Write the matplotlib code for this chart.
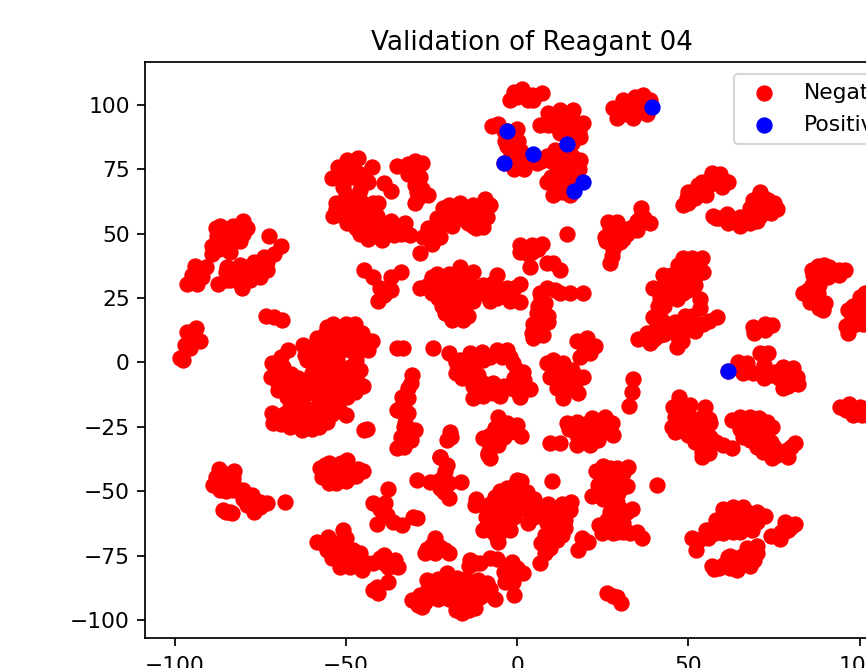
import numpy as np
import matplotlib
matplotlib.use("Agg")
import matplotlib.pyplot as plt

# t-SNE coordinates, grouped by region of the plot
far_left = [(-96.4,30.6),(-93.5,30.6),(-95,34),(-94,37.6),(-91,37),(-87.3,30.6),(-85,32),(-84.7,37),(-82,33),(-80.3,28.7),
    (-80,34),(-78,35.7),(-75,33),(-77,39),(-73,39),(-74,41),(-71,42),(-69,45),(-72.4,49),(-81,38),
    (-89,42),(-87,44),(-85,46),(-87.6,49),(-86.7,53),(-84,49),(-82,51),(-80,54.7),(-81,47),(-84,43),(-89,45),(-79,52),
    (-98.4,1.6),(-97.5,0.8),(-96.4,11.8),(-93.8,13.2),(-97,6.6),(-92.7,8.5),(-94.7,9.3),(-95.5,5.4),
    (-73.3,18.2),(-68.7,16.3),(-71,17.5),
    (-86,51),(-83,53),(-87,47),(-83,47),(-83,36),(-79,37),(-75,38),(-77,34),(-83.8,31.8),(-73,36),(-95,11),
    (-92,33),(-85,35),(-81,31),(-78,32),(-76,36),(-88,52),(-84,52),(-85,44),(-80,50)]

upper_left = [(-54,71.4),(-49.7,78.4),(-46.4,79.2),(-52.3,75.7),(-42.3,75.7),(-43.5,70),(-39,69.5),(-37,66.7),(-35,76.4),
    (-50.8,68),(-48,71.8),(-48,75.7),(-53,61.7),(-53.7,57),(-49.7,60),(-46,63),(-42,62),(-40.6,61.7),(-48,55),(-44,56.3),
    (-49.7,54),(-46,50),(-43.5,48),(-39.5,47.7),(-42,52),(-37,55),(-35,51),(-46,58),(-50,65),(-46,67),
    (-32,75.7),(-27.8,77.6),(-31.8,73),(-28.3,71.8),(-27.7,67.5),(-26,64.8),(-29.8,61.7),(-29.2,66),
    (-32.7,54.3),(-35.6,53),(-31.2,49.3),(-34,50),
    (-51,71),(-46,73),(-50,73),(-50,63),(-46,60),(-43,59),(-51,57),(-47,52),(-40,50),(-38,52),(-44,53),(-41,57),(-53,59.5),(-51,62),(-30,75),
    (-41,49),(-36,49.5),(-33,53),(-30,69),(-29,64),(-32,77),(-30,78)]

upper_mid = [(-9.3,63.6),(-8,61),(-8.8,56.3),(-10,52.4),(-14.3,54),(-16.6,61.7),(-21.6,59.8),(-19,60),(-23.5,56),(-21.6,54),
    (-18,56),(-14.3,59),(-12.3,56),(-22.5,48.5),(-27.4,48.5),(-25,46),(-28.3,42.3),(-24.5,50.5),
    (0.9,45.4),(4.4,45.4),(7.3,46),(0.9,42.7),(4.4,43),(8.8,38.4),(12.5,35.7),(10.5,38.4),(3.8,37),
    (-13,61),(-11,58),(-20,57),(-16,58),(-24,53),(-19,53),(-24,48),(-12,52),(-25,50),(3,42),(6,44),
    (-20,61),(-17,59),(-22,57),(-26,52),(-18,60),(-11,55),(-13,53),(-9,59),(-16,56)]

top_group = [(-2,101.7),(-1,104.8),(1.5,106),(4.4,103.7),(4.7,101.7),(7.3,104.4),(-7.3,91.6),(-5.5,92.7),(-3,90),(0,90.8),
    (-3.5,86),(0.3,86),(-2,82.3),(0.9,82.3),(-4,77.6),(-1,75),(1.5,78.4),(4.6,78),(5.8,77.6),(8.8,80.3),(11,82.3),(13.4,78.4),
    (6.7,92),(9,97),(12.5,97.8),(16.4,97.8),(19.3,93),(10.5,92),(14.6,93),(12.5,89),(18.3,87.4),(15.5,88),(14.6,84),
    (18.3,78.4),(15.5,75.7),(17,72.6),(11.7,73.4),(8.8,70),(10.5,64.8),(13.4,69.5),(15.5,64.8),(14,72),(12,77),(16,80),
    (28,98.6),(29,94.7),(31,101.7),(33.9,95),(36.8,103.7),(38.8,101.7),(33,100.5),(36,99),(37.8,96.6),(31,96.6),(34.5,103),(39,99),
    (36,60),(38.8,54),(35,55),(26.6,54.4),(29,54.4),(25.6,48.5),(32,50),(30,46.6),(27.6,41.5),(28,44),(35,51.3),(14.6,50),(27,38.4),
    (-1,85),(-1,79),(2,75),(10,94),(13,94),(16,95),(14,90),(7,78),(10,78),(13,82),(16,77),(11,70),(12,67),(15,69),(12,74),(3,102),(0,103),
    (28,50),(28,47),(27,52),(36,57),(37,56),
    (-2,88),(-3,84),(1,80),(-2,78),(3,79),(16,85),(9,92),(11,96),(15,96),(18,90),(10,72),(13,66),(16,66),(17,70),(18,75),(15,73),(-4,90),
    (32,98),(35,97),(35,101),(30,98),(26,47),(30,50),(33,52),(31,48)]

center_upper = [(-28.3,28.7),(-23.4,34.5),(-20,34.5),(-16.6,37),(-12.8,35),(-26,30),(-21.6,29),(-17.6,30.6),(-13.7,30.6),
    (-23,25),(-19.6,25),(-15.8,25),(-12.8,24),(-22,22),(-18.7,21.3),(-14.6,23),(-19,16.3),(-15.8,16.3),(-14.3,18.2),(-17,19),
    (-10,30),(-6,33.8),(-10.2,26.8),(-5.8,28.7),(-3,29),(0.9,30.6),(-1,29),(0.9,23.3),(-2,24),(-5.8,25),(-8,27),
    (6.7,27),(8.8,29),(12.5,27),(15.5,27),(19.3,27),(8.2,23),(5.8,19),(9,18.2),(4.7,15),(9,15.5),(4.7,9.3),(7.6,10.5),(4.4,11.3),(7,17),
    (17.5,8.5),(20.4,9.3),(22.7,6.2),(18.4,2),(21.3,3.5),(19.5,6),
    (-25,27),(-22,32),(-18,33),(-15,33),(-20,27),(-16,28),(-12,28),(-24,32),(-19,20),(-16,22),(-21,19),(-8,30),(-7,31),(-3,26),(-8,24),
    (7,14),(6,12),(6,22),(7,25),(11,28),(-14,27),(-16,35),(-20,31),(-22,27),(-25,33)]

center_ring = [(-24.5,5.4),(-33.3,5.4),(-35,5.4),(-19.9,3.5),(-18,-4.3),(-16,-6.2),(-16.6,0.8),(-13.7,3.5),(-10.2,3.9),(-12.8,-1.9),
    (-11.4,-5),(-6,4.7),(-3,4.7),(-4.5,2),(-1.2,-0.4),(1.7,-3.9),(0.9,-7),(3.8,-10.5),(0.9,-13.6),(-2,-10),(-7,-12),(-10.8,-10),
    (-13,-14),(-7,-7.8),(-10,-8),(-4,-9),
    (8.8,-0.4),(10.5,0.8),(13.4,-0.4),(16,-3),(9.6,-5.8),(12.5,-4.3),(19.3,-5.8),(16.4,-8),(11.7,-10),(13.4,-14),(17.8,-12),(15.5,-9),
    (33.9,-6.6),(33.6,-11.6),(32.7,-17),
    (-18,0),(-14,0),(-10,1),(-15,-3),(-8,2),(-2,2),(0,-3),(2,-7),(0,-11),(-5,-13),(-10,-13),(-12,-7),(-1,-6),(-14,-6),(-13,-9),
    (11,-3),(14,-3),(12,-7),(15,-6),(14,-11),(11,-5),(17,-8)]

center_lower = [(14.6,-23.7),(17.5,-23.3),(21.9,-21.7),(25.7,-21.3),(27.7,-23.7),(28,-28),(23.4,-26.4),(20.4,-26.4),(17.5,-28.3),
    (9.6,-31.4),(12.5,-31.4),(17.5,-32.2),(21.3,-32.2),(23.6,-30.3),(19,-29),
    (-5.5,-21.3),(0,-24.4),(1.2,-28.7),(-3,-23.7),(-6.4,-25.6),(-10,-29.5),(-4,-29),(-7,-31.4),(-8.5,-35.3),(-5.5,-32),
    (-19.6,-27),(-20.4,-30.3),(-19.3,-29),(-22.5,-36.9),
    (-30.7,-5),(-32,-10),(-33.7,-13.6),(-34,-17.5),(-32.7,-23.7),(-30,-26.4),(-32,-27.5),(-33,-33),(-31,-30.3),(-31.8,-19.8),(-35,-18.6),(-35,-33.4),
    (-2,-27),(-5,-27),(-8,-33),(22,-24),(25,-25),(19,-30),(-33,-20),(-33,-25),(-34,-29),
    (-2,-26),(-8,-28),(-6,-29),(-8,-37),(-4,-25),(24,-28),(20,-24),(15,-26),(19,-25),(-33,-15),(-32,-14),(-31,-8),(-33,-31)]

big_blob = [(-71.5,-0.4),(-71.8,-5.8),(-66.9,4.7),(-62.5,6.6),(-58.5,9.3),(-55.6,13.6),(-53.7,15),(-47.3,15),(-45.4,11.6),(-42.5,8.5),
    (-43.5,4.7),(-50.8,12.4),(-54.7,8.5),(-50.8,7.4),(-48.9,4.7),(-48.9,-1.9),(-52.7,0.8),(-57.6,3.5),(-61.5,0.8),(-68.4,-1.9),
    (-68.4,-7),(-69.8,-10.9),(-67.2,-13.6),(-66.3,-17.5),(-62.5,-16),(-59.6,-12),(-61.5,-7),(-57.6,-5.8),(-63.4,-9.7),(-55.6,-12),
    (-51.8,-12),(-49.8,-13.6),(-47.3,-11.6),(-46.4,-8),(-50.8,-7),(-54.7,-9.7),(-58.5,-17.5),(-55.6,-17.5),(-55.6,-23.3),(-58.5,-22.5),
    (-61.5,-21.3),(-62.9,-26.4),(-66.3,-25.2),(-71.2,-23.7),(-71.5,-19.8),(-68.4,-22.5),(-57.6,-0.4),(-65,-8),
    (-50,-20.5),(-44.7,-26.3),(-44,-26),
    (-44.7,35.7),(-42,33),(-37,33),(-34,35),(-40,28.7),(-37,28),(-40.8,23.7),(-39,26),
    (-69,2),(-66,-4.5),(-64,-6),(-60,-4),(-56,-3),(-55,2),(-55,5),(-52,4),(-47,1),(-46,-3),(-49,-5),(-53,-10),(-60,-9),(-66,-11),(-64,-13),
    (-57,-14),(-54,-15),(-52,-18),(-60,-19),(-64,-20),(-66,-21),(-58,-25),(-47,8),(-48,10),(-52,10),(-56,11),(-47,-4),(-48,-9),(-65,-22),(-60,-26),
    (-62,3),(-59,6),(-56,7),(-53,11),(-50,15),(-45,8),(-46,5),(-52,-3),(-55,-7),(-45,-9),(-70,-8),(-69,-5),(-66,-8),(-62,-11),(-57,-10),
    (-62,-19),(-58,-20),(-54,-20),(-63,-23),(-57,-22),(-69,-24),(-68,-20)]

lower_left = [(-87,-41.5),(-82.6,-42.3),(-88,-44.6),(-88.8,-47.7),(-86.7,-49.7),(-84.4,-47),(-83,-49.7),(-85.5,-44),(-80,-49.7),(-77.5,-51.6),
    (-78.8,-55.5),(-77,-58),(-73,-54.7),(-86,-57.4),(-83.4,-58.6),(-67.7,-54.3),(-75,-56),
    (-57.6,-41),(-57,-44.6),(-55,-47),(-52.7,-45),(-53.7,-40),(-49.8,-38),(-49.8,-42),(-46.4,-41.5),(-51.5,-39),(-48.9,-44.6),
    (-58.5,-69.8),(-55.2,-67.9),(-50.8,-65.2),(-55.5,-73),(-52.3,-70.2),(-48,-73),(-50.8,-75.7),(-51.7,-79.6),(-48.9,-79.6),(-45.4,-80.7),
    (-46,-76.8),(-42,-78),(-39,-74.9),(-35.6,-76.8),(-37.7,-79.6),(-34.7,-79.6),(-37.7,-85.4),(-42,-88.5),(-40.6,-89.6),(-41,-87),
    (-85,-50),(-86,-46),(-83,-45),(-80,-53),(-75,-54),(-84,-58),(-55,-42),(-52,-42),(-55,-44),(-50,-41),(-53,-73),(-50,-71),(-47,-77),(-50,-72.5),
    (-44,-78),(-45,-78),(-40,-76),(-54,-70),
    (-86,-43),(-83,-47),(-85,-48),(-80,-51),(-78,-53),(-75,-55),(-85,-58),(-56,-40),(-47,-44),(-45,-42),(-55,-39),(-50,-46),(-53,-47),
    (-56,-71),(-50,-68),(-46,-74),(-49,-76),(-39,-78),(-36,-79),(-54,-76),(-45,-79)]

lower_mid = [(-37.7,-49.3),(-42,-54.7),(-38.5,-54.7),(-38,-59.4),(-40.9,-62.9),(-36.2,-62),(-33.6,-63.3),(-29.2,-60.5),(-30.5,-60),
    (-29.2,-45.8),(-25.4,-46.6),(-22.5,-36.9),(-20.4,-40),(-21.6,-44.6),(-16.4,-46.6),(-22.5,-48.9),(-20,-52.8),(-21.5,-50.5),(-8.5,-36),
    (-24,-68.3),(-26.3,-72.6),(-24,-74),(-20,-74),(-22.5,-71.8),(-13.7,-76.8),(-10.8,-78),(-6,-76.4),(-1.5,-77.6),(1.8,-81.9),(-4,-81.5),
    (-1.2,-85.4),(-3.5,-85.4),(-0.9,-90.4),(-30.7,-92.4),(-27.7,-95),(-26.3,-84.6),(-28.3,-90.4),(-24.5,-88.5),(-20.4,-81.9),(-21.6,-89.6),
    (-17.6,-83.8),(-17.6,-92.4),(-16,-97.4),(-12.3,-95.5),(-14.3,-88.5),(-11.4,-84.6),(-8.8,-85.8),(-6.4,-92),(-10.8,-91.2),(-15,-92),
    (-20,-87),(-24,-86),(-8.5,-90),
    (0,-45.8),(-3,-48.9),(-6.4,-52.4),(-12.3,-55.5),(2.9,-50.4),(0,-50.8),(0,-56.3),(-4,-56.3),(-8.8,-57.4),(-10,-65.2),(-5.5,-69.8),(-3.5,-64),
    (-7,-62),(3.2,-62.5),(2.9,-57.4),(7.6,-58.6),(8.8,-62.5),(11.7,-57.4),(15.5,-57.4),(15.8,-54.3),(14,-64.4),(11.7,-61.3),(10.2,-46.2),
    (11.7,-69),(8.8,-70.2),(8.2,-74),(6.7,-78),(9.5,-72),(19,-68.3),(20.7,-69.8),(17.8,-73),
    (-3,-53),(-7,-57),(-5,-60),(-1,-60),(-9,-60),(3,-55),(5,-60),(9,-60),(13,-55),(12,-64),(-7,-66),(-5,-66),
    (-26,-88),(-23,-92),(-18,-88),(-13,-92),(-11,-88),(-20,-92),(-23,-84),(-19,-84),(-15,-84),(-14,-96),(-27,-91),(-29,-94),
    (-23,-46),(-20,-47),(-21,-42),(-40,-57),
    (-12,-53),(-5,-50),(-8,-55),(-3,-58),(-2,-65),(-8,-64),(-6,-68),(1,-46),(-1,-48),(5,-53),(6,-57),(9,-55),(12,-59),(14,-61),(13,-67),(10,-66),
    (7,-70),(8,-67),(-14,-79),(-12,-78),(-8,-76),(-3,-79),(-2,-82),(0,-80),(-27,-74),(-25,-71),(-21,-73),(-18,-96),(-15,-90),(-12,-89),(-8,-88),
    (-27,-93),(-22,-86),(-16,-86)]

lower_right = [(25,-40.4),(32.4,-40.7),(29,-41),(23.6,-47.7),(28,-45),(21.8,-52),(26.3,-50.8),(29.5,-50.8),(32,-48),(40.7,-47.7),(30.5,-57.4),
    (33.5,-57),(26.3,-61.3),(24.7,-66.4),(28,-66.4),(31,-62.5),(33,-66.4),(36.4,-68.3),(27,-63.5),
    (26.3,-89.6),(29,-91.2),(30.4,-93.5),(28,-90.5),
    (51,-68.3),(52.3,-73),(55.8,-68.3),(57.8,-66.4),(60,-59.4),(60,-66.4),(63,-62.5),(66,-56.3),(67,-63.3),(72.4,-59.8),(69,-60.2),(68.6,-65.2),
    (65,-59),(62.7,-65.2),(74.2,-67.5),(76.8,-68.7),(78.2,-62),(81,-62.9),(79,-65.2),
    (57.5,-80.3),(60.1,-78.8),(64.2,-80.7),(61.6,-75.7),(65,-75.7),(69,-76.8),(70,-71.4),(67,-72.2),
    (25,-45),(28,-48),(30,-45),(25,-53),(28,-55),(28,-60),(30,-60),(28,-63),(31,-66),(55,-65),(58,-63),(62,-60),(65,-63),(60,-63),(63,-66),(66,-60),
    (64,-78),(67,-75),(62,-78),(78,-66),
    (23,-42),(27,-41),(31,-43),(25,-47),(30,-49),(24,-50),(29,-54),(32,-58),(27,-58),(24,-63),(35,-66),(30,-63),(29,-66),
    (53,-69),(56,-65),(58,-61),(60,-57),(63,-56),(67,-58),(70,-58),(63,-60),(68,-62),(65,-66),(70,-62),(77,-66),(80,-64),
    (59,-80),(62,-75),(66,-78),(70,-74),(68,-79),(57,-79),(62,-80),(68,-73)]

right_mid = [(47.3,-13.6),(45.5,-17.5),(50.5,-16.7),(54.9,-17.5),(48,-18),(45.3,-25.2),(47.5,-26.4),(56.4,-23.7),(52.4,-26.4),(52,-31),
    (56.4,-29),(53.9,-34.9),(60.1,-32.2),(62.7,-33.4),(55,-32),(54,-21),(54,-36.9),
    (62.7,-22.5),(66.9,-22.5),(70.7,-21.7),(74.5,-25.2),(66,-29),(70,-26.4),(72.4,-30.3),(71.8,-34.9),(74.7,-35.3),(78.8,-34.1),(81.2,-31.4),
    (79.1,-36.9),(68,-26),(65,-26),(75,-33),(74.5,-37.3),
    (68.9,13.6),(72.4,15),(74.5,14.7),(69.1,11.6),(72.4,12.4),(70.9,3.5),(73.2,3.5),(61.6,-3.5),(64.5,0),(67,-0.4),(68.9,-4.3),(71.8,-5),
    (75.3,-3.9),(77.7,-1.9),(80.6,-2.3),(81.8,-5.8),(82,-8.5),(77.7,-10),(76.5,-6),(79,-6),
    (50,-20),(50,-28),(54,-26),(55,-33),(68,-30),(70,-33),(73,-33),(69,-23),(65,-24),(72,-27),(77,-35),(46,-21),(53,-29),(72,-1),(74,-5),(78,-5),(79,-3),(66,-1),
    (47,-16),(48,-22),(46,-27),(50,-24),(53,-24),(56,-22),(58,-31),(56,-35),(65,-21),(68,-21),(73,-23),(67,-26),(72,-24),(69,-28),(74,-31),(76,-36),(80,-33),
    (66,-4),(72,-6),(80,-5),(79,-9)]

right_upper = [(39.7,29),(42.6,33.8),(46.7,31.8),(50.5,34.5),(54.3,35),(49,39.6),(52,39.6),(43.8,28),(48.5,26.8),(46.7,24.8),(41.8,25),(50.5,30.6),
    (53.4,24.8),(53.4,21),(58.3,17.8),(51,18.2),(54.3,15),(50.5,13.2),(46.1,15.5),(48,8.5),(46.7,5.8),(48.5,11.5),
    (39.7,17.5),(41.2,22),(40.8,14.4),(37.9,11.6),(38.8,7.4),(41.8,10.5),(35.3,8.9),(48.5,40.7),(54,40.7),(51,40.7),
    (56.8,73.7),(59.2,73.3),(61.6,70.2),(59.9,68),(52.7,68.7),(49.5,64),(48.5,61),(52,64),(54.9,67.5),(57.2,57),(61.2,57.8),(61.6,54),(65,56.3),(65,52.8),
    (68.5,59),(70.9,66),(73.2,62.9),(71,60),(75.9,59.4),(70.9,57),(68.9,62.9),
    (87.8,37.6),(86.4,33.8),(92.3,35.7),(95.8,36),(89.5,38),(90.7,33),(83.5,27),(86,30),(85.5,23.3),(87.8,26.8),(89.3,20.2),(89.9,22.9),
    (96.5,20.2),(100,25.2),(101.5,27),(99,20.2),(96.6,11.6),(99,15),(98,18),(101,20),(101,15),(105,26),
    (94.3,-17.5),(96.9,-16),(98,-20.6),(100,-17.5),(100.7,-20.6),(96,-18.5),(104,-18),
    (44,31),(47,28),(50,28),(52,33),(48,35),(50,37),(45,30),(52,37),(50,16),(52,12),(46,12),(39,10),(42,17),(41,12),(38,9),
    (64,55),(68,56),(71,62),(59,56),(55,65),(52,66),(58,70),(56,71),(72,60),(68,54),(87,35),(88,30),(87,25),(90,35),(94,34),(88,21),
    (43,30),(46,26),(48,30),(52,30),(47,38),(53,37),(43,22),(41,19),(44,15),(40,9),(43,11),(49,18),(52,15),(56,16),(47,10),(47,14),(45,34),(49,34),
    (54,70),(50,62),(50,66),(56,69),(60,71),(58,56),(63,55),(70,55),(74,58),(72,64),(68,60),(75,62),
    (86,27),(88,24),(85,28),(89,34),(91,37),(94,36),(86,36),(98,22),(97,15),(102,24),(96,14)]

positive = [(-3,90),(-4,77.6),(4.6,80.8),(14.6,84.6),(19.3,70.2),(16.7,66.7),(39.3,99),(61.6,-3.5)]

x_ticks = [-100, -50, 0, 50, 100]
y_ticks = [-100, -75, -50, -25, 0, 25, 50, 75, 100]

negative = np.array(far_left + upper_left + upper_mid + top_group + center_upper + center_ring
                    + center_lower + big_blob + lower_left + lower_mid + lower_right
                    + right_mid + right_upper)
positive = np.array(positive)

W, H, DPI = 866, 668, 157
fig = plt.figure(figsize=(W / DPI, H / DPI), dpi=DPI)
# the original figure is cut off on the right, so the axes run past the canvas
ax = fig.add_axes([145 / W, (H - 638.3) / H, 777 / W, 576 / H])

ax.scatter(negative[:, 0], negative[:, 1], c="red", s=42, label="Negative")
ax.scatter(positive[:, 0], positive[:, 1], c="blue", s=42, label="Positive")

ax.set_xlim(-108.7, 118.2)
ax.set_ylim(-107.1, 116.5)
ax.set_xticks(x_ticks)
ax.set_yticks(y_ticks)
ax.tick_params(axis="x", pad=4.5)
ax.set_title("Validation of Reagant 04", pad=5.6, x=0.498)
ax.legend(loc="upper right", borderaxespad=0.55, labelspacing=0.55)

fig.savefig("out.png", dpi=DPI)
